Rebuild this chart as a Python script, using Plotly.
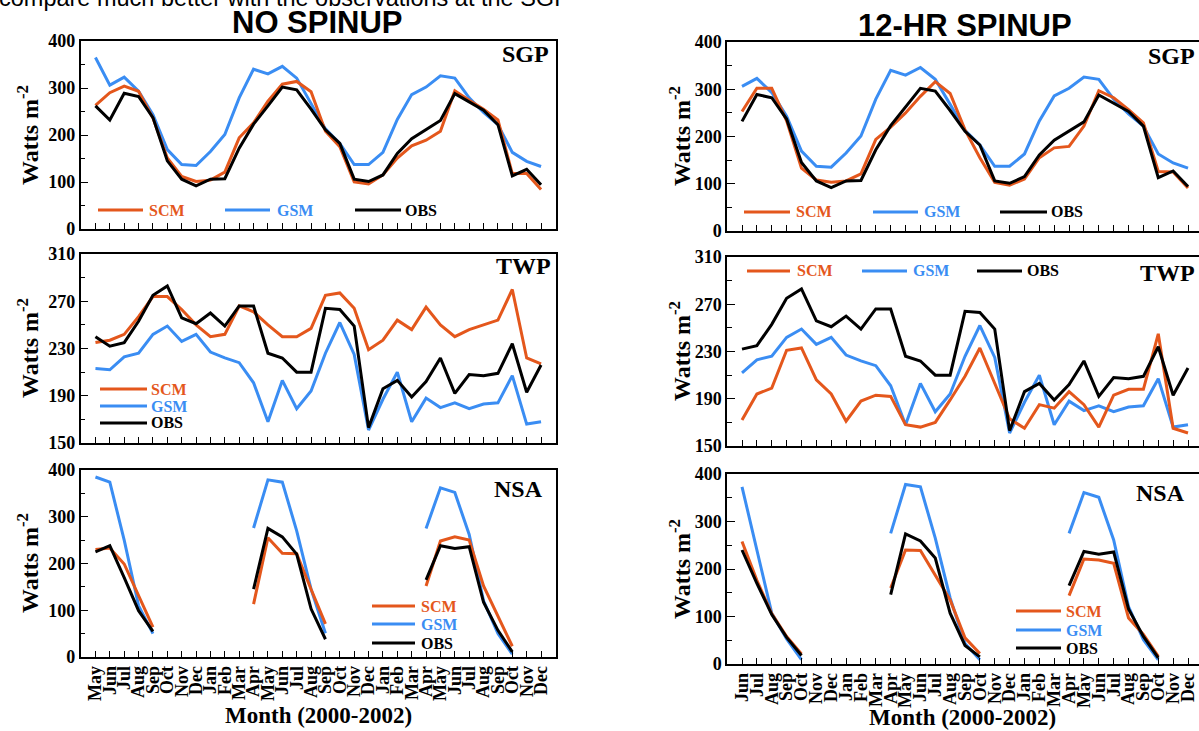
import plotly.graph_objects as go

W, H = 1199, 731

# ---------------- data ----------------
months_left = ["May","Jun","Jul","Aug","Sep","Oct","Nov","Dec",
               "Jan","Feb","Mar","Apr","May","Jun","Jul","Aug","Sep","Oct","Nov","Dec",
               "Jan","Feb","Mar","Apr","May","Jun","Jul","Aug","Sep","Oct","Nov","Dec"]
months_right = ["Jun","Jul","Aug","Sep","Oct","Nov","Dec",
                "Jan","Feb","Mar","Apr","May","Jun","Jul","Aug","Sep","Oct","Nov","Dec",
                "Jan","Feb","Mar","Apr","May","Jun","Jul","Aug","Sep","Oct","Nov","Dec"]

# SGP (May 2000 - Dec 2002)
sgp_gsm = [365, 306, 323, 293, 243, 169, 137, 135, 165, 201, 279, 340, 330, 346, 321, 268,
           213, 182, 137, 137, 163, 233, 286, 302, 326, 321, 279, 248, 222, 163, 144, 133]
sgp_obs = [262, 232, 289, 282, 237, 145, 106, 92, 106, 107, 172, 223, 262, 302, 296, 255,
           211, 182, 106, 101, 115, 161, 192, 211, 231, 288, 270, 253, 222, 113, 127, 94]
sgp_scm_nospin = [263, 290, 304, 293, 236, 151, 112, 101, 104, 121, 194, 226, 272, 308, 314, 292,
                  208, 175, 100, 96, 115, 151, 177, 189, 208, 294, 274, 255, 232, 118, 118, 84]
# 12-hr spinup SCM (Jun 2000 - Dec 2002)
sgp_scm_spin = [253, 302, 302, 233, 133, 108, 103, 106, 121, 194, 220, 250, 285, 316, 291, 214,
                155, 103, 97, 110, 155, 176, 179, 222, 297, 282, 257, 229, 126, 125, 91]

# TWP (May 2000 - Dec 2002)
twp_gsm = [213, 212, 223, 226, 242, 249, 236, 242, 227, 222, 218, 201, 168, 203, 179, 194,
           226, 252, 225, 161, 187, 210, 168, 188, 180, 184, 179, 183, 184, 207, 166, 168]
twp_obs = [240, 232, 235, 253, 275, 283, 256, 251, 260, 249, 266, 266, 226, 222, 210, 210,
           264, 263, 249, 163, 196, 203, 189, 202, 222, 192, 208, 207, 209, 234, 193, 216]
twp_scm_nospin = [235, 237, 242, 257, 274, 274, 263, 250, 240, 242, 266, 261, 250, 240, 240, 247,
                  275, 277, 264, 229, 237, 254, 246, 265, 250, 240, 246, 250, 254, 280, 222, 217]
twp_scm_spin = [172, 194, 199, 231, 233, 206, 194, 171, 188, 193, 192, 168, 166, 170, 189, 209,
                233, 203, 173, 165, 185, 182, 196, 185, 166, 193, 198, 198, 245, 165, 161]

N = None
# NSA, no spinup (May 2000 - Dec 2002)
nsa_gsm_nospin = [385, 374, 250, 110, 50, N, N, N, N, N, N, 276, 379, 374, 270, 145,
                  51, N, N, N, N, N, N, 275, 362, 352, 262, 120, 50, 6, N, N]
nsa_scm_nospin = [230, 233, 199, 131, 64, N, N, N, N, N, N, 113, 255, 222, 221, 145,
                  71, N, N, N, N, N, N, 152, 248, 257, 250, 152, 89, 23, N, N]
nsa_obs_nospin = [225, 238, 170, 99, 55, N, N, N, N, N, N, 145, 275, 257, 220, 103,
                  38, N, N, N, N, N, N, 165, 238, 232, 236, 117, 57, 11, N, N]
# NSA, 12-hr spinup (Jun 2000 - Dec 2002)
nsa_gsm_spin = [373, 240, 107, 53, 9, N, N, N, N, N, 275, 378, 373, 265, 139, 43,
                9, N, N, N, N, N, 275, 361, 351, 261, 121, 51, 9, N, N]
nsa_scm_spin = [258, 176, 106, 58, 21, N, N, N, N, N, 160, 240, 239, 188, 135, 55,
                22, N, N, N, N, N, 144, 221, 219, 212, 97, 62, 16, N, N]
nsa_obs_spin = [240, 170, 104, 56, 18, N, N, N, N, N, 146, 274, 259, 223, 107, 39,
                15, N, N, N, N, N, 165, 237, 231, 236, 116, 58, 13, N, N]

# ---------------- style ----------------
C_SCM = "#E4571C"
C_GSM = "#3A8DF3"
C_OBS = "#000000"
SERIF = "Liberation Serif"
SANS = "Liberation Sans"


def px(x):
    return x / W


def py(y):
    return 1 - y / H


fig = go.Figure()

left_x = (80.5, 556)
right_x = (727, 1199)
panels = [
    (1, months_left, left_x, (41, 229), (0, 400), 100, 50,
     [(sgp_scm_nospin, C_SCM), (sgp_gsm, C_GSM), (sgp_obs, C_OBS)], False),
    (2, months_left, left_x, (254, 443), (150, 310), 40, 20,
     [(twp_scm_nospin, C_SCM), (twp_gsm, C_GSM), (twp_obs, C_OBS)], False),
    (3, months_left, left_x, (470, 657), (0, 400), 100, 50,
     [(nsa_scm_nospin, C_SCM), (nsa_gsm_nospin, C_GSM), (nsa_obs_nospin, C_OBS)], True),
    (4, months_right, right_x, (42, 231), (0, 400), 100, 50,
     [(sgp_scm_spin, C_SCM), (sgp_gsm[1:], C_GSM), (sgp_obs[1:], C_OBS)], False),
    (5, months_right, right_x, (257, 446), (150, 310), 40, 20,
     [(twp_scm_spin, C_SCM), (twp_gsm[1:], C_GSM), (twp_obs[1:], C_OBS)], False),
    (6, months_right, right_x, (474, 664), (0, 400), 100, 50,
     [(nsa_scm_spin, C_SCM), (nsa_gsm_spin, C_GSM), (nsa_obs_spin, C_OBS)], True),
]

layout_axes = {}
for idx, months, xd, yd, yr, dt, mdt, series, bottom in panels:
    n = len(months)
    xs = list(range(n))
    is_left = idx <= 3
    order = [series[1], series[0], series[2]]
    for vals, col in order:
        fig.add_trace(go.Scatter(
            x=xs, y=vals, mode="lines", line=dict(color=col, width=3),
            connectgaps=False, showlegend=False, hoverinfo="skip",
            xaxis="x" if idx == 1 else f"x{idx}",
            yaxis="y" if idx == 1 else f"y{idx}"))
    if is_left:
        xr = [-1.04, n - 1 + 1.04]
    else:
        xr = [-1.01, n - 1 + 0.74]
    xkey = "xaxis" if idx == 1 else f"xaxis{idx}"
    ykey = "yaxis" if idx == 1 else f"yaxis{idx}"
    layout_axes[xkey] = dict(
        domain=[px(xd[0]), min(1.0, px(xd[1]))], anchor="y" if idx == 1 else f"y{idx}",
        range=xr, tickmode="array", tickvals=xs,
        ticktext=months if bottom else [""] * n,
        showticklabels=bottom, tickangle=-90, automargin=False,
        tickfont=dict(family=SERIF, size=18, color="black", weight="bold"),
        ticks="inside", ticklen=6, tickwidth=1, tickcolor="black",
        showline=True, linecolor="black", linewidth=1.5, mirror=True,
        showgrid=False, zeroline=False, fixedrange=True)
    layout_axes[ykey] = dict(
        domain=[py(yd[1]), py(yd[0])], anchor="x" if idx == 1 else f"x{idx}",
        range=list(yr), dtick=dt, tick0=yr[0], automargin=False,
        tickfont=dict(family=SERIF, size=18, color="black", weight="bold"),
        ticks="inside", ticklen=8, tickwidth=1, tickcolor="black",
        minor=dict(ticks="inside", ticklen=5, dtick=mdt, tick0=yr[0], tickcolor="black"),
        showline=True, linecolor="black", linewidth=1.5, mirror=is_left,
        showgrid=False, zeroline=False, fixedrange=True)

fig.update_layout(**layout_axes)

ann = []
shapes = []


def text(x, y, s, size, family=SERIF, color="black", xanchor="center", angle=0, bold=True):
    ann.append(dict(x=px(x), y=py(y), xref="paper", yref="paper", text=s, showarrow=False,
                    xanchor=xanchor, yanchor="middle", textangle=angle,
                    font=dict(family=family, size=size, color=color,
                              weight="bold" if bold else "normal")))


def leg(x0, x1, xt, y, name, color):
    shapes.append(dict(type="line", xref="paper", yref="paper", x0=px(x0), x1=px(x1),
                       y0=py(y), y1=py(y), line=dict(color=color, width=3)))
    text(xt, y, name, 16, color=color, xanchor="left")


# cropped line of surrounding document text at the very top
ann.append(dict(x=px(-3), y=py(13), xref="paper", yref="paper",
                text="compare much better with the observations at the SGP",
                showarrow=False, xanchor="left", yanchor="bottom",
                font=dict(family=SANS, size=23.5, color="black")))

# titles
text(317, 23, "NO SPINUP", 31, family=SANS)
text(965, 25, "12-HR SPINUP", 31, family=SANS)

# y axis titles
for xx, yy in [(28, 135), (28, 348), (28, 563), (680, 136), (680, 351), (680, 569)]:
    text(xx, yy, "Watts m<sup>-2</sup>", 24, angle=-90)

# x axis titles
text(318, 715, "Month (2000-2002)", 23)
text(963, 717, "Month (2000-2002)", 23)

# site labels
for xx, yy, s in [(551, 54, "SGP"), (553, 266, "TWP"), (545, 489, "NSA"),
                  (1197, 56, "SGP"), (1197, 273, "TWP"), (1187, 493, "NSA")]:
    text(xx, yy, s, 24, xanchor="right")

# legends
leg(98, 143, 147, 210, "SCM", C_SCM)
leg(225, 270, 275, 210, "GSM", C_GSM)
leg(355, 401, 403, 210, "OBS", C_OBS)

leg(100, 147, 149, 389, "SCM", C_SCM)
leg(100, 147, 149, 406, "GSM", C_GSM)
leg(100, 147, 149, 423, "OBS", C_OBS)

leg(372, 415, 419, 606, "SCM", C_SCM)
leg(372, 415, 419, 624, "GSM", C_GSM)
leg(372, 415, 419, 643, "OBS", C_OBS)

leg(744, 790, 794, 212, "SCM", C_SCM)
leg(873, 918, 922, 212, "GSM", C_GSM)
leg(1000, 1047, 1049, 212, "OBS", C_OBS)

leg(747, 790, 795, 271, "SCM", C_SCM)
leg(862, 907, 911, 271, "GSM", C_GSM)
leg(977, 1022, 1025, 271, "OBS", C_OBS)

leg(1016, 1061, 1064, 611, "SCM", C_SCM)
leg(1016, 1061, 1064, 630, "GSM", C_GSM)
leg(1016, 1061, 1064, 648, "OBS", C_OBS)

fig.update_layout(
    width=W, height=H, autosize=False,
    margin=dict(l=0, r=0, t=0, b=0, pad=0, autoexpand=False),
    paper_bgcolor="white", plot_bgcolor="white",
    showlegend=False, annotations=ann, shapes=shapes,
)

fig.write_html("out.html", config={"displayModeBar": False},
               post_script="document.body.style.margin='0';document.body.style.overflow='hidden';")
